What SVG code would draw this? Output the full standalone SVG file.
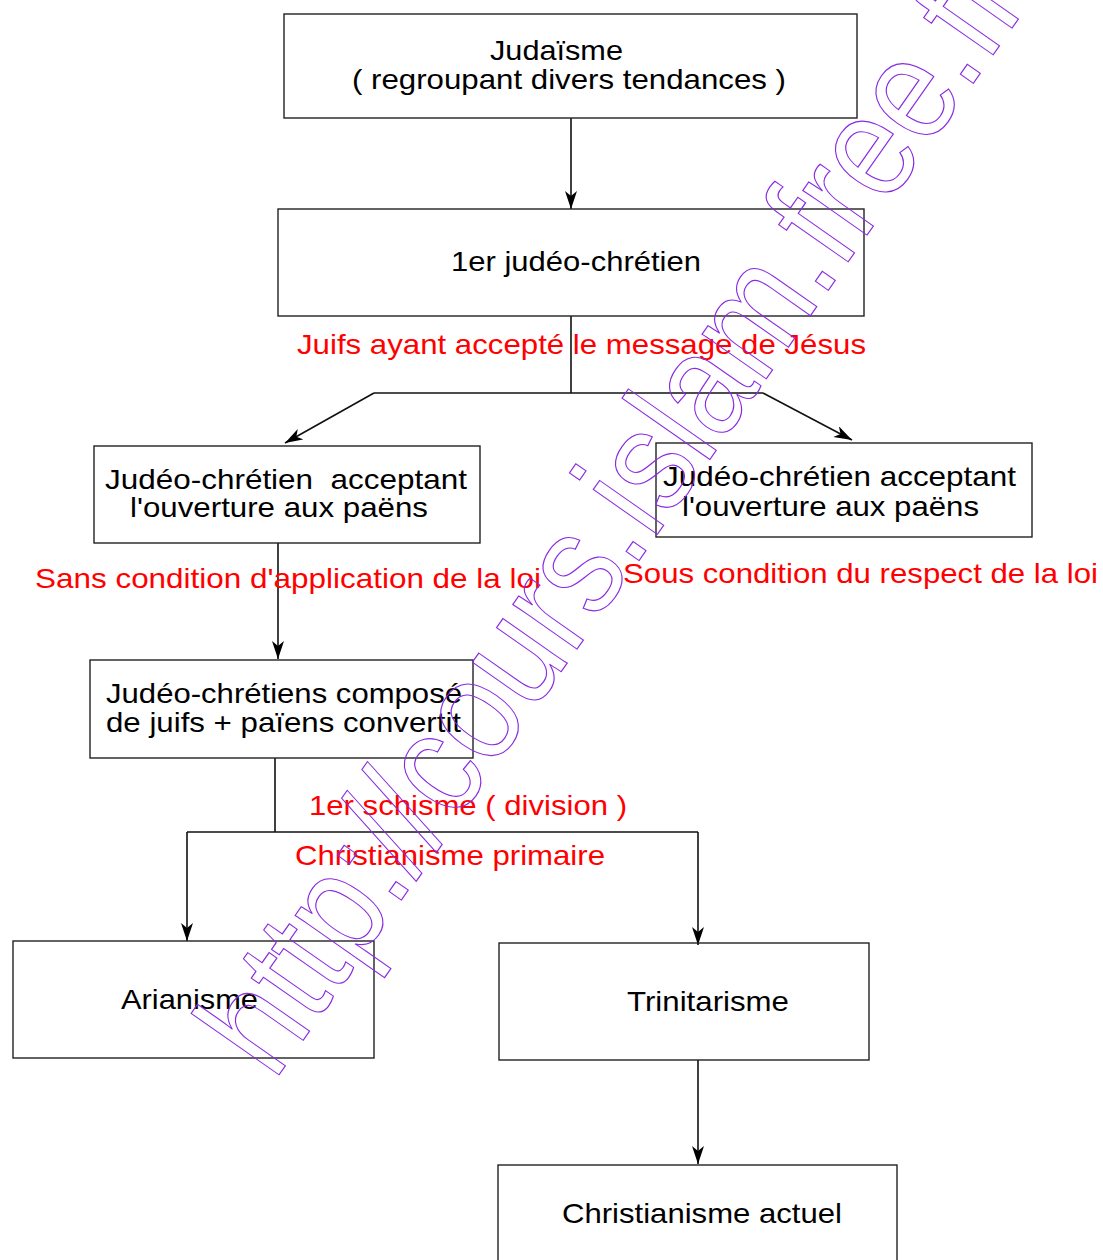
<svg xmlns="http://www.w3.org/2000/svg" width="1103" height="1260" viewBox="0 0 1103 1260">
<style>
.box{fill:none;stroke:#222;stroke-width:1.4}
.t{font-family:"Liberation Sans",Arial,sans-serif;font-size:28px;fill:#000}
.r{font-family:"Liberation Sans",Arial,sans-serif;font-size:28px;fill:#ff0000}
.ln{fill:none;stroke:#111;stroke-width:1.6}
.wm{font-family:"Liberation Sans",Arial,sans-serif;font-size:148px;fill:none;stroke:#8a2be2;stroke-width:1.2}
</style>
<defs>
<marker id="ah" markerUnits="userSpaceOnUse" markerWidth="20" markerHeight="14" refX="18" refY="6" orient="auto">
<path d="M0,0 L18,6 L0,12 L5,6 z" fill="#000"/>
</marker>
</defs>
<rect x="0" y="0" width="1103" height="1260" fill="#fff"/>
<g id="connectors">
<line class="ln" x1="571" y1="118" x2="571" y2="209" marker-end="url(#ah)"/>
<line class="ln" x1="571" y1="316" x2="571" y2="393"/>
<line class="ln" x1="374" y1="393" x2="763" y2="393"/>
<line class="ln" x1="374" y1="393" x2="285" y2="443" marker-end="url(#ah)"/>
<line class="ln" x1="763" y1="393" x2="852" y2="440" marker-end="url(#ah)"/>
<line class="ln" x1="278" y1="543" x2="278" y2="659" marker-end="url(#ah)"/>
<line class="ln" x1="275" y1="758" x2="275" y2="832"/>
<line class="ln" x1="187" y1="832" x2="698" y2="832"/>
<line class="ln" x1="187" y1="832" x2="187" y2="941" marker-end="url(#ah)"/>
<line class="ln" x1="698" y1="832" x2="698" y2="945" marker-end="url(#ah)"/>
<line class="ln" x1="698" y1="1060" x2="698" y2="1164" marker-end="url(#ah)"/>
</g>
<g id="n1"><rect class="box" x="284" y="14" width="573" height="104"/>
<text class="t" x="490" y="60" textLength="133" lengthAdjust="spacingAndGlyphs">Judaïsme</text>
<text class="t" x="352" y="89" textLength="434" lengthAdjust="spacingAndGlyphs">( regroupant divers tendances )</text></g>
<g id="n2"><rect class="box" x="278" y="209" width="586" height="107"/>
<text class="t" x="451" y="271" textLength="250" lengthAdjust="spacingAndGlyphs">1er judéo-chrétien</text></g>
<g id="l1"><text class="r" x="297" y="354" textLength="569" lengthAdjust="spacingAndGlyphs">Juifs ayant accepté le message de Jésus</text></g>
<g id="n3"><rect class="box" x="94" y="446" width="386" height="97"/>
<text class="t" x="105" y="489" textLength="362" lengthAdjust="spacingAndGlyphs" xml:space="preserve">Judéo-chrétien  acceptant</text>
<text class="t" x="130" y="517" textLength="298" lengthAdjust="spacingAndGlyphs">l'ouverture aux paëns</text></g>
<g id="n4"><rect class="box" x="656" y="443" width="376" height="94"/>
<text class="t" x="663" y="486" textLength="353" lengthAdjust="spacingAndGlyphs">Judéo-chrétien acceptant</text>
<text class="t" x="682" y="516" textLength="297" lengthAdjust="spacingAndGlyphs">l'ouverture aux paëns</text></g>
<g id="l2"><text class="r" x="35" y="588" textLength="506" lengthAdjust="spacingAndGlyphs">Sans condition d'application de la loi</text></g>
<g id="l3"><text class="r" x="623" y="583" textLength="475" lengthAdjust="spacingAndGlyphs">Sous condition du respect de la loi</text></g>
<g id="n5"><rect class="box" x="90" y="660" width="383" height="98"/>
<text class="t" x="106" y="703" textLength="356" lengthAdjust="spacingAndGlyphs">Judéo-chrétiens composé</text>
<text class="t" x="106" y="732" textLength="355" lengthAdjust="spacingAndGlyphs">de juifs + païens convertit</text></g>
<g id="l4"><text class="r" x="309" y="815" textLength="318" lengthAdjust="spacingAndGlyphs">1er schisme ( division )</text></g>
<g id="l5"><text class="r" x="295" y="865" textLength="310" lengthAdjust="spacingAndGlyphs">Christianisme primaire</text></g>
<g id="n6"><rect class="box" x="13" y="941" width="361" height="117"/>
<text class="t" x="121" y="1009" textLength="137" lengthAdjust="spacingAndGlyphs">Arianisme</text></g>
<g id="n7"><rect class="box" x="499" y="943" width="370" height="117"/>
<text class="t" x="627" y="1011" textLength="162" lengthAdjust="spacingAndGlyphs">Trinitarisme</text></g>
<g id="n8"><rect class="box" x="498" y="1165" width="399" height="110"/>
<text class="t" x="562" y="1223" textLength="280" lengthAdjust="spacingAndGlyphs">Christianisme actuel</text></g>
<g id="watermark">
<text class="wm" x="0" y="0" transform="translate(274,1082) rotate(-55)" textLength="1320" lengthAdjust="spacingAndGlyphs">http://cours.islam.free.fr</text>
</g>
</svg>
